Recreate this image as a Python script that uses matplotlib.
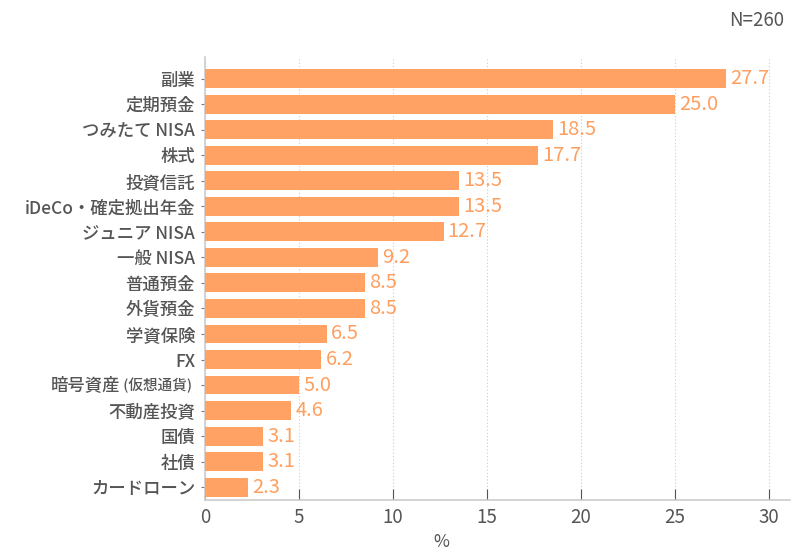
import matplotlib.pyplot as plt

plt.rcParams['font.family'] = ['Noto Sans CJK JP', 'DejaVu Sans']

# data
categories = ['副業', '定期預金', 'つみたて NISA', '株式', '投資信託', 'iDeCo・確定拠出年金',
              'ジュニア NISA', '一般 NISA', '普通預金', '外貨預金', '学資保険', 'FX',
              '暗号資産(仮想通貨)', '不動産投資', '国債', '社債', 'カードローン']
values = [27.7, 25.0, 18.5, 17.7, 13.5, 13.5, 12.7, 9.2, 8.5, 8.5, 6.5, 6.2, 5.0, 4.6, 3.1, 3.1, 2.3]
xticks = [0, 5, 10, 15, 20, 25, 30]

bar_color = '#FFA263'
text_gray = '#555555'

fig = plt.figure(figsize=(8, 5.5), dpi=100)
ax = fig.add_axes([0.256, 0.091, 0.731, 0.805])

ypos = list(range(len(categories)))
ax.barh(ypos, values, height=0.74, color=bar_color, zorder=3)
for y, v in zip(ypos, values):
    ax.text(v + 0.22, y, f'{v:.1f}', va='center', ha='left', fontsize=14.5,
            color='#FF9F5F', zorder=4)

ax.set_ylim(len(categories) - 0.5, -0.84)
ax.set_yticks(ypos)
# the crypto label has a smaller bracket part, drawn by hand below
labels = [c if '(' not in c else '' for c in categories]
ax.set_yticklabels(labels, fontsize=12.5, color=text_gray, fontweight='medium')
ax.set_xlim(0, 31.1)
ax.set_xticks(xticks)
ax.set_xticklabels([str(t) for t in xticks], fontsize=13.5, color=text_gray)
ax.set_xlabel('%', fontsize=12.5, color=text_gray)
ax.xaxis.set_label_coords(0.405, -0.075)

ax.grid(axis='x', linestyle=(0, (1, 2)), color='#cccccc', linewidth=0.8, zorder=0)
for s in ['top', 'right']:
    ax.spines[s].set_visible(False)
for s in ['left', 'bottom']:
    ax.spines[s].set_color('#cccccc')
    ax.spines[s].set_linewidth(1.2)
ax.tick_params(axis='x', direction='in', length=8, color='#555555', pad=5)
ax.tick_params(axis='y', direction='out', length=3, color='#777777', pad=4)

# two-size label for 暗号資産(仮想通貨)
idx = [i for i, c in enumerate(categories) if '(' in c][0]
main, sub = categories[idx].split('(')
fig.canvas.draw()
r = fig.canvas.get_renderer()
t_sub = ax.annotate(' (' + sub, xy=(0, idx), xycoords=('axes fraction', 'data'),
                    xytext=(-9, 0), textcoords='offset points', ha='right', va='center',
                    fontsize=10.5, color=text_gray, fontweight='medium')
w = t_sub.get_window_extent(r).width * 72 / fig.dpi
ax.annotate(main, xy=(0, idx), xycoords=('axes fraction', 'data'),
            xytext=(-9 - w, 0), textcoords='offset points', ha='right', va='center',
            fontsize=12.5, color=text_gray, fontweight='medium')

fig.text(0.98, 0.962, 'N=260', ha='right', va='center', fontsize=13.5, color=text_gray)

fig.savefig('out.png', dpi=100)
